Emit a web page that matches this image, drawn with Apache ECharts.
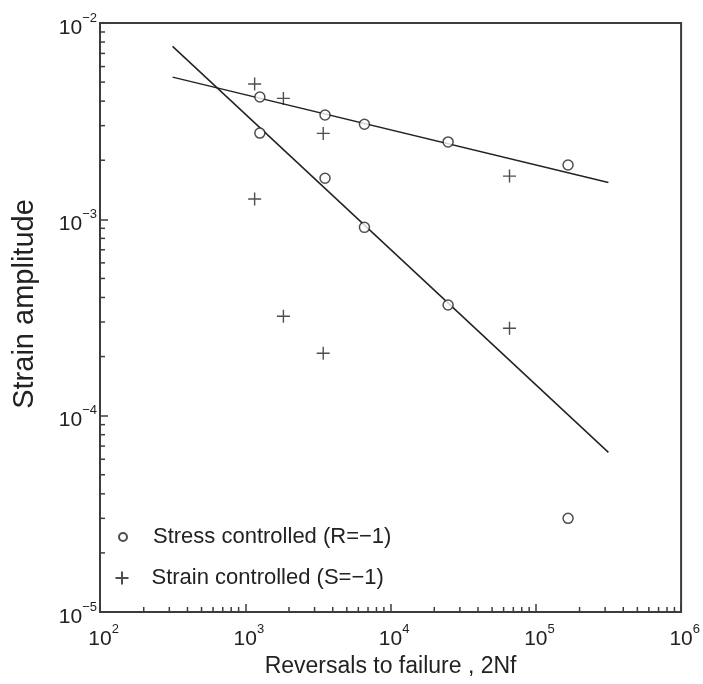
<!DOCTYPE html>
<html>
<head>
<meta charset="utf-8">
<script src="https://cdn.jsdelivr.net/npm/echarts@6/dist/echarts.min.js"></script>
<style>
  html, body { margin: 0; padding: 0; background: #fff; }
  #chart { width: 703px; height: 684px; }
</style>
</head>
<body>
<div id="chart"></div>
<script>
// Stress controlled tests (R = -1): reversals to failure and strain amplitude
const stressReversals = [1260, 1260, 3540, 3540, 6610, 6610, 24900, 24900, 166700, 166700];
const stressAmplitude = [4.2e-3, 2.75e-3, 3.4e-3, 1.62e-3, 3.05e-3, 9.1e-4, 2.48e-3, 3.66e-4, 1.89e-3, 3.0e-5];

// Strain controlled tests (S = -1)
const strainReversals = [1160, 1830, 3440, 1160, 1830, 3440, 65900, 65900];
const strainAmplitude = [4.89e-3, 4.13e-3, 2.74e-3, 1.27e-3, 3.21e-4, 2.08e-4, 1.66e-3, 2.79e-4];

// Fitted power-law lines (end points)
const fitUpperReversals = [316, 316000];
const fitUpperAmplitude = [5.3e-3, 1.54e-3];
const fitLowerReversals = [316, 316000];
const fitLowerAmplitude = [7.6e-3, 6.5e-5];

// Axis ranges (decades)
const xDecades = [2, 3, 4, 5, 6];
const yDecades = [-5, -4, -3, -2];

const seriesNames = ['Stress controlled (R=\u22121)', 'Strain controlled (S=\u22121)'];

const INK = '#222';
const AXIS = '#3c3c3c';
const FONT = '"Liberation Sans", Arial, Helvetica, sans-serif';

const zip = (xs, ys) => xs.map((x, i) => [x, ys[i]]);

// minor tick values 2..9 in every decade
const minorX = [];
for (let d = xDecades[0]; d < xDecades[xDecades.length - 1]; d++) {
  for (let m = 2; m <= 9; m++) minorX.push(m * Math.pow(10, d));
}
const minorY = [];
for (let d = yDecades[0]; d < yDecades[yDecades.length - 1]; d++) {
  for (let m = 2; m <= 9; m++) minorY.push(m * Math.pow(10, d));
}
const xMin = Math.pow(10, xDecades[0]), xMax = Math.pow(10, xDecades[xDecades.length - 1]);
const yMin = Math.pow(10, yDecades[0]), yMax = Math.pow(10, yDecades[yDecades.length - 1]);

function expText(v) {
  const e = Math.round(Math.log10(v));
  return e < 0 ? '\u2212' + (-e) : String(e);
}

// "10" sits low, the exponent sits high (both tokens share one 30px line)
const richBase = {
  b: { fontSize: 21, fontFamily: FONT, color: INK, lineHeight: 20, padding: [10, 0, 0, 0] },
  e: { fontSize: 13, fontFamily: FONT, color: INK, lineHeight: 16, padding: [2, 0, 12, 0] },
  h: { fontSize: 13, fontFamily: FONT, color: 'rgba(0,0,0,0)', lineHeight: 16, padding: [2, 0, 12, 0] }
};

const plusPath = 'path://M0,6L12,6M6,0L6,12';

const chart = echarts.init(document.getElementById('chart'), null, { renderer: 'canvas' });

chart.setOption({
  backgroundColor: '#fff',
  animation: false,
  grid: {
    left: 100, right: 17, top: 23, bottom: 72,
    show: true, borderColor: AXIS, borderWidth: 2, backgroundColor: 'transparent'
  },
  legend: [
    {
      data: [seriesNames[0]],
      left: 113, top: 521,
      itemWidth: 8, itemHeight: 8,
      textStyle: { fontSize: 22, fontFamily: FONT, color: INK, padding: [0, 0, 0, 21] },
      selectedMode: false
    },
    {
      data: [seriesNames[1]],
      left: 108, top: 562,
      itemWidth: 13, itemHeight: 13,
      textStyle: { fontSize: 22, fontFamily: FONT, color: INK, padding: [0, 0, 0, 18] },
      selectedMode: false
    }
  ],
  xAxis: {
    type: 'log', logBase: 10, min: xMin, max: xMax, interval: 1,
    name: 'Reversals to failure , 2Nf',
    nameLocation: 'middle', nameGap: 43,
    nameTextStyle: { fontSize: 23, fontFamily: FONT, color: INK },
    axisLine: { lineStyle: { color: AXIS, width: 2 } },
    axisTick: { inside: true, length: 8, lineStyle: { color: AXIS, width: 1.5 } },
    splitLine: { show: false },
    axisLabel: {
      margin: 12,
      formatter: v => '{h|' + expText(v) + '}{b|10}{e|' + expText(v) + '}',
      rich: richBase
    }
  },
  yAxis: {
    type: 'log', logBase: 10, min: yMin, max: yMax, interval: 1,
    name: 'Strain amplitude',
    nameLocation: 'middle', nameGap: 61,
    nameTextStyle: { fontSize: 29, fontFamily: FONT, color: INK, padding: [0, 0, 0, 27] },
    axisLine: { lineStyle: { color: AXIS, width: 2 } },
    axisTick: { inside: true, length: 8, lineStyle: { color: AXIS, width: 1.5 } },
    splitLine: { show: false },
    axisLabel: {
      margin: 3,
      formatter: v => '{b|10}{e|' + expText(v) + '}',
      rich: richBase
    }
  },
  series: [
    {
      name: seriesNames[0],
      type: 'scatter',
      data: zip(stressReversals, stressAmplitude),
      symbol: 'circle', symbolSize: 10,
      itemStyle: { color: '#fff', borderColor: INK, borderWidth: 1.5 },
      z: 4
    },
    {
      name: seriesNames[1],
      type: 'scatter',
      data: zip(strainReversals, strainAmplitude),
      symbol: plusPath, symbolSize: 13,
      itemStyle: { color: 'none', borderColor: INK, borderWidth: 1.4 },
      z: 4
    },
    {
      type: 'line',
      data: zip(fitUpperReversals, fitUpperAmplitude),
      showSymbol: false, symbol: 'none',
      lineStyle: { color: INK, width: 1.5 },
      silent: true, z: 3
    },
    {
      type: 'line',
      data: zip(fitLowerReversals, fitLowerAmplitude),
      showSymbol: false, symbol: 'none',
      lineStyle: { color: INK, width: 1.5 },
      silent: true, z: 3
    },
    {
      // minor ticks along the bottom axis
      type: 'custom',
      silent: true,
      data: minorX.map(v => [v, yMin]),
      renderItem: (params, api) => {
        const p = api.coord([api.value(0), api.value(1)]);
        return { type: 'line', shape: { x1: p[0], y1: p[1], x2: p[0], y2: p[1] - 5 },
                 style: { stroke: AXIS, lineWidth: 1.5 } };
      },
      z: 5
    },
    {
      // minor ticks along the left axis
      type: 'custom',
      silent: true,
      data: minorY.map(v => [xMin, v]),
      renderItem: (params, api) => {
        const p = api.coord([api.value(0), api.value(1)]);
        return { type: 'line', shape: { x1: p[0], y1: p[1], x2: p[0] + 5, y2: p[1] },
                 style: { stroke: AXIS, lineWidth: 1.5 } };
      },
      z: 5
    }
  ]
});
</script>
</body>
</html>
